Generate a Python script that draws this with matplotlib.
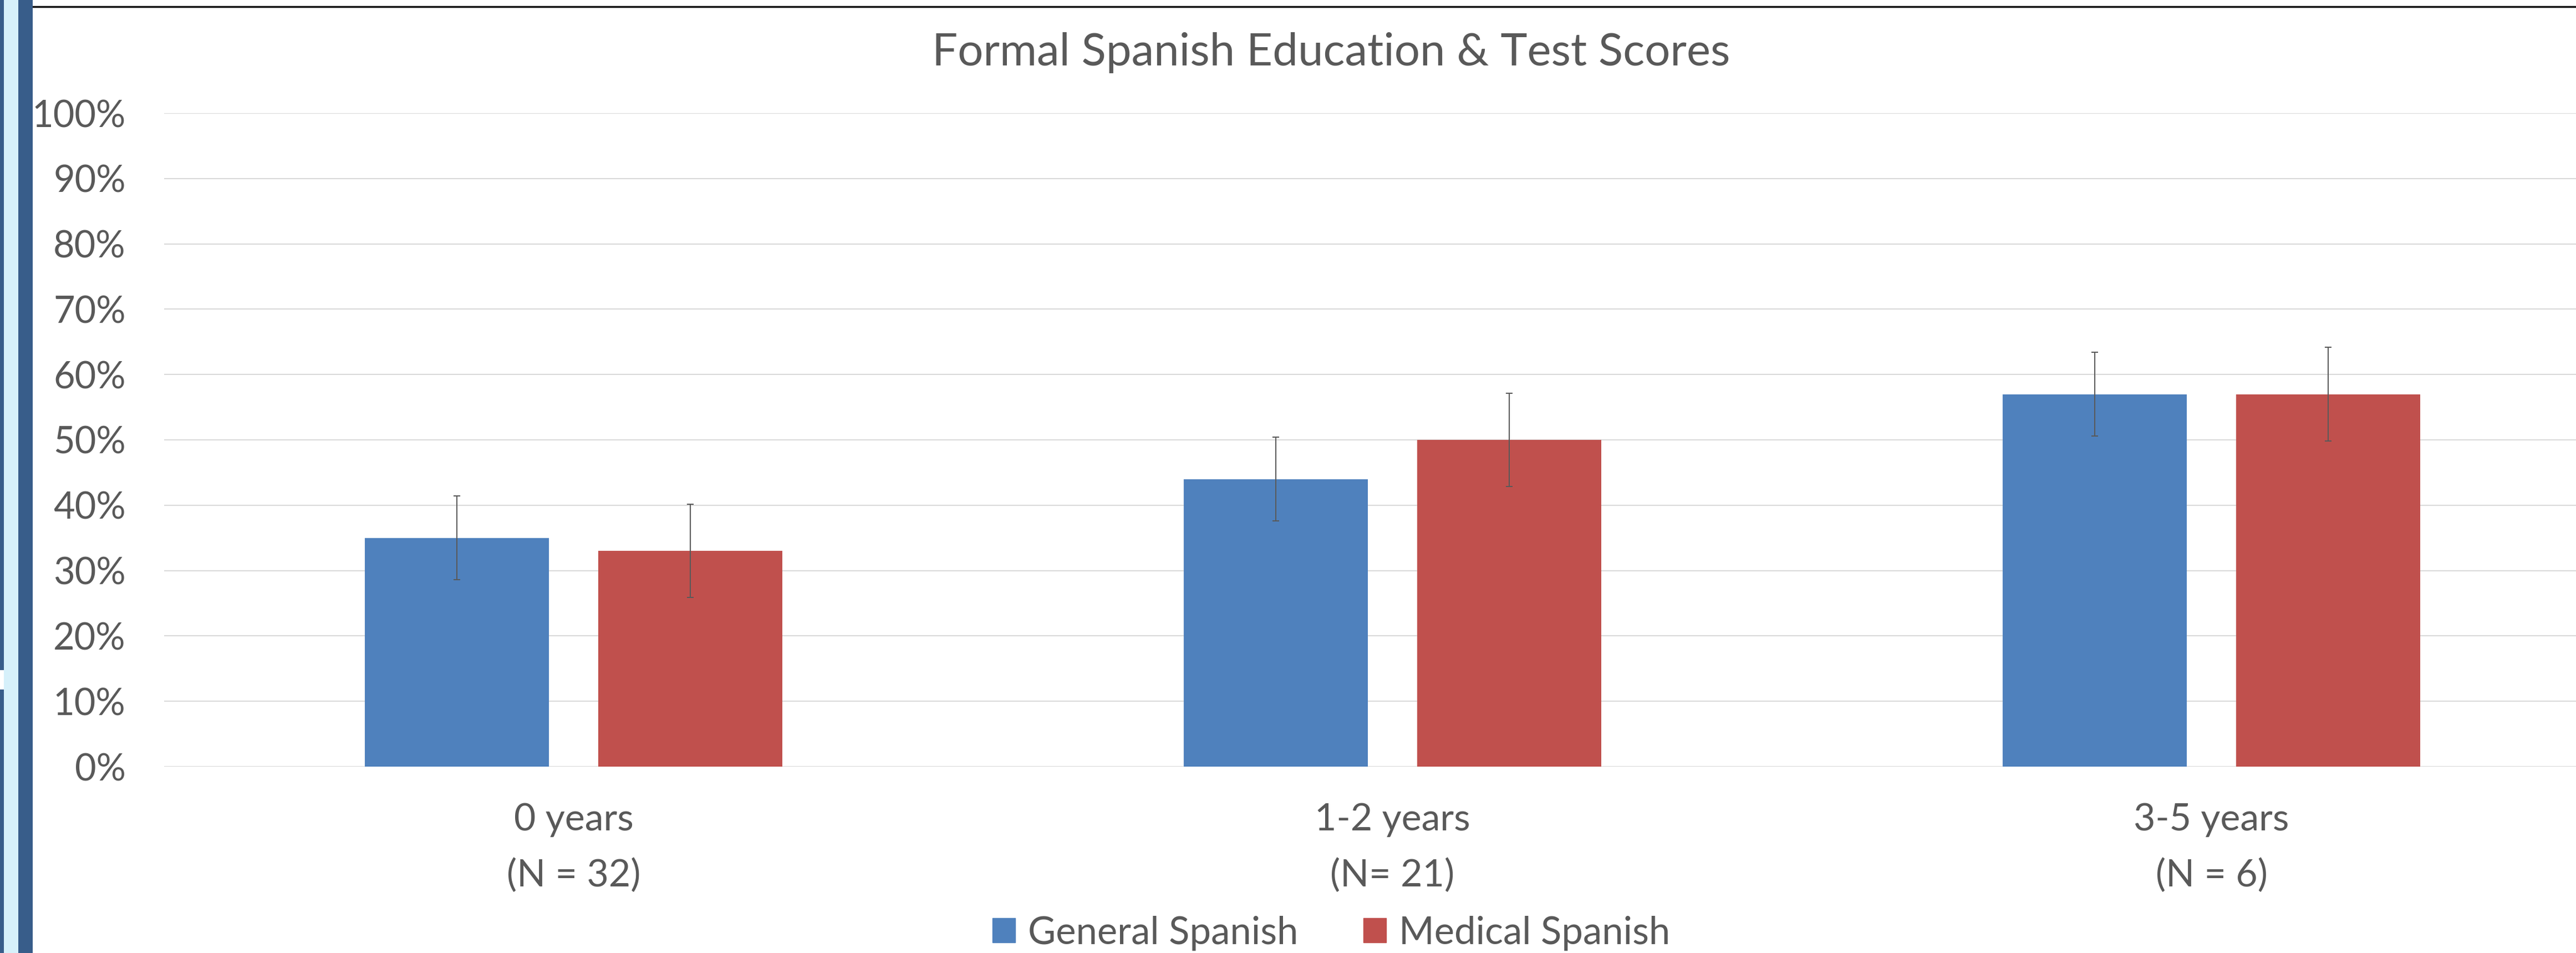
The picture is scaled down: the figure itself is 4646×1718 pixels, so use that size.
import numpy as np
import matplotlib
matplotlib.use('Agg')
import matplotlib.pyplot as plt
from matplotlib.patches import Rectangle, Patch
from matplotlib.lines import Line2D
from matplotlib.ticker import PercentFormatter

# data
categories = ['0 years\n(N = 32)', '1-2 years\n(N= 21)', '3-5 years\n(N = 6)']
general = [0.35, 0.44, 0.57]
medical = [0.33, 0.50, 0.57]
general_err = [0.064, 0.064, 0.064]
medical_err = [0.0715, 0.0715, 0.0715]
series_names = ['General Spanish', 'Medical Spanish']

W, H = 4646, 1718
gray = '#595959'
blue = '#4F81BD'
red = '#C0504D'

plt.rcParams['font.family'] = ['Lato', 'DejaVu Sans']

fig = plt.figure(figsize=(W / 100, H / 100), dpi=100)
fig.patch.set_facecolor('white')

# plot area (right side runs past the picture edge, as in the screenshot)
ax = fig.add_axes([296 / W, 1 - 1382 / H, 4431 / W, 1178 / H])

x = np.arange(len(categories))
bw = 0.2248
off = 0.1425
ekw = dict(ecolor=gray, elinewidth=1.44, capsize=4.3, capthick=1.44)
ax.bar(x - off, general, bw, color=blue, yerr=general_err, error_kw=ekw, zorder=2)
ax.bar(x + off, medical, bw, color=red, yerr=medical_err, error_kw=ekw, zorder=2)

ax.set_xlim(-0.5, 2.5)
ax.set_ylim(0, 1)
ax.set_yticks(np.arange(0, 1.01, 0.1))
ax.yaxis.set_major_formatter(PercentFormatter(1.0, decimals=0))
ax.grid(axis='y', color='#D9D9D9', linewidth=1.44, zorder=0)
ax.set_axisbelow(True)
for s in ax.spines.values():
    s.set_visible(False)

ax.set_xticks(x)
ax.set_xticklabels(categories, linespacing=1.75)
ax.tick_params(axis='y', length=0, pad=50, labelsize=48, labelcolor=gray)
ax.tick_params(axis='x', length=0, pad=47, labelsize=49, labelcolor=gray)

# title
fig.text(2401 / W, 1 - 118 / H, 'Formal Spanish Education & Test Scores',
         ha='center', va='baseline', fontsize=58.8, color=gray)

# legend
handles = [Patch(color=blue), Patch(color=red)]
fig.legend(handles, series_names, loc='center', bbox_to_anchor=(2401 / W, 1 - 1682 / H),
           ncol=2, frameon=False, fontsize=49.5, labelcolor=gray,
           handlelength=0.6, handleheight=0.6, handletextpad=0.33,
           columnspacing=1.72, borderpad=0, borderaxespad=0)

# window frame on the left and the line on top
def box(x0, y0, w, h, c):
    fig.add_artist(Rectangle((x0 / W, 1 - (y0 + h) / H), w / W, h / H,
                             transform=fig.transFigure, color=c, lw=0, zorder=5))

box(7, 0, 26, H, '#D6F0FA')
box(33, 0, 26, H, '#385D8A')
box(0, 0, 7, 1208, '#385D8A')
box(0, 1243, 7, H - 1243, '#385D8A')
fig.add_artist(Line2D([59 / W, 1], [1 - 11.5 / H, 1 - 11.5 / H], transform=fig.transFigure,
                      color='black', lw=2.4))

fig.savefig('out.png', dpi=100)
